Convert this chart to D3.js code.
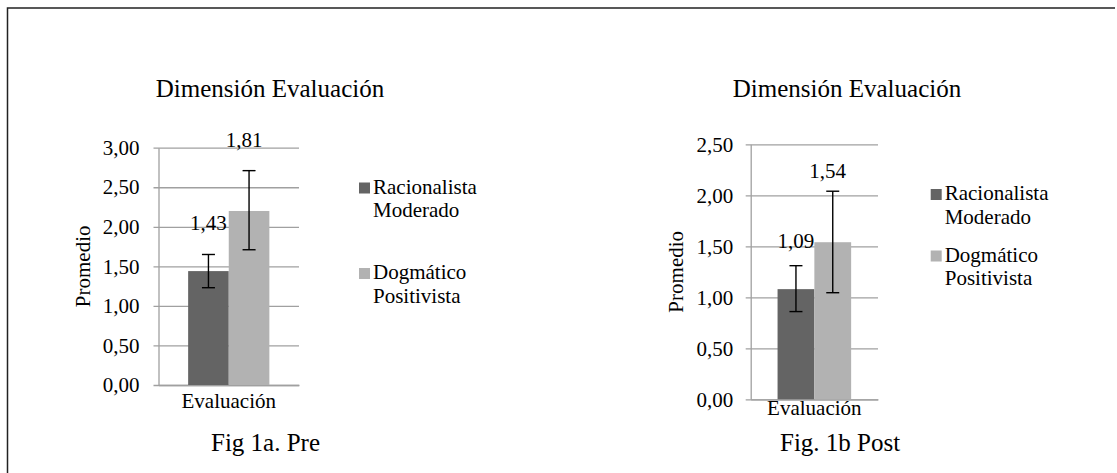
<!DOCTYPE html>
<html>
<head>
<meta charset="utf-8">
<script src="https://cdn.jsdelivr.net/npm/d3@7"></script>
<style>
  body { margin: 0; background: #fff; }
  svg text { font-family: "Liberation Serif", "Times New Roman", serif; fill: #000; }
</style>
</head>
<body>
<div id="chart"></div>
<script>
// data
var categories = ["Evaluación"];
var seriesNames = ["Racionalista Moderado", "Dogmático Positivista"];
var colors = ["#646464", "#b2b2b2"];

// Fig 1a (pre)
var preValues = [1.44, 2.20];
var preLabels = ["1,43", "1,81"];
var preErrLow = [1.23, 1.71];
var preErrHigh = [1.65, 2.71];
var preTicks = [0, 0.5, 1, 1.5, 2, 2.5, 3];

// Fig 1b (post)
var postValues = [1.08, 1.54];
var postLabels = ["1,09", "1,54"];
var postErrLow = [0.86, 1.045];
var postErrHigh = [1.31, 2.04];
var postTicks = [0, 0.5, 1, 1.5, 2, 2.5];

var w = 1117, h = 473;

var svg = d3.select("#chart")
    .append("svg")
    .attr("width", w)
    .attr("height", h)
    .attr("font-family", "Liberation Serif");

// page frame (top and left only)
svg.append("path")
    .attr("d", "M7.5," + h + "V8H1115")
    .attr("fill", "none")
    .attr("stroke", "#222")
    .attr("stroke-width", 1.5);

var locale = d3.formatLocale({decimal: ",", thousands: ".", grouping: [3], currency: ["", ""]});
var fmt = locale.format(".2f");

function drawChart(opt) {
    var y = d3.scaleLinear()
        .domain([0, d3.max(opt.ticks)])
        .range([opt.y0, opt.yTop]);

    var x = d3.scaleBand()
        .domain(categories)
        .range([opt.x0, opt.x1])
        .paddingOuter(0.365);

    var xs = d3.scaleBand()
        .domain(d3.range(seriesNames.length))
        .range([0, x.bandwidth()]);

    var plotW = opt.x1 - opt.x0;

    // y axis + gridlines
    var yAxis = svg.append("g")
        .attr("transform", "translate(" + opt.x0 + ",0)")
        .call(d3.axisLeft(y).tickValues(opt.ticks).tickSize(5).tickSizeOuter(0)
            .tickPadding(opt.tickPad).tickFormat(fmt));
    yAxis.attr("font-family", "Liberation Serif");
    yAxis.selectAll(".tick line")
        .attr("x1", -5)
        .attr("x2", plotW)
        .attr("stroke", "#a0a0a0")
        .attr("stroke-width", 1.3);
    yAxis.select(".domain").attr("stroke", "#a0a0a0").attr("stroke-width", 1.3);
    yAxis.selectAll(".tick text")
        .attr("font-size", 21)
        .attr("fill", "#000");

    // category axis
    var xAxis = svg.append("g")
        .attr("transform", "translate(0," + opt.y0 + ")")
        .call(d3.axisBottom(x).tickSize(0).tickPadding(opt.catPad));
    xAxis.attr("font-family", "Liberation Serif");
    xAxis.select(".domain").attr("stroke", "#a0a0a0").attr("stroke-width", 1.3);
    xAxis.selectAll(".tick text")
        .attr("font-size", 21)
        .attr("fill", "#000");

    // bars
    var g = svg.append("g")
        .attr("transform", "translate(" + x(categories[0]) + ",0)");

    g.selectAll("rect.bar")
        .data(opt.values)
        .enter()
        .append("rect")
        .attr("class", "bar")
        .attr("x", function (d, i) { return xs(i); })
        .attr("width", xs.bandwidth())
        .attr("y", function (d) { return y(d); })
        .attr("height", function (d) { return opt.y0 - y(d); })
        .attr("fill", function (d, i) { return colors[i]; });

    // error bars
    var err = g.selectAll("g.err")
        .data(opt.values)
        .enter()
        .append("g")
        .attr("class", "err")
        .attr("stroke", "#000")
        .attr("stroke-width", 1.4);
    err.append("line")
        .attr("x1", function (d, i) { return xs(i) + xs.bandwidth() / 2; })
        .attr("x2", function (d, i) { return xs(i) + xs.bandwidth() / 2; })
        .attr("y1", function (d, i) { return y(opt.errLow[i]); })
        .attr("y2", function (d, i) { return y(opt.errHigh[i]); });
    [opt.errLow, opt.errHigh].forEach(function (arr) {
        err.append("line")
            .attr("x1", function (d, i) { return xs(i) + xs.bandwidth() / 2 - 6.5; })
            .attr("x2", function (d, i) { return xs(i) + xs.bandwidth() / 2 + 6.5; })
            .attr("y1", function (d, i) { return y(arr[i]); })
            .attr("y2", function (d, i) { return y(arr[i]); });
    });

    // value labels
    var labelLift = [41, 64];
    var labelShift = [0, -5];
    g.selectAll("text.val")
        .data(opt.values)
        .enter()
        .append("text")
        .attr("class", "val")
        .attr("x", function (d, i) { return xs(i) + xs.bandwidth() / 2 + labelShift[i]; })
        .attr("y", function (d, i) { return y(d) - labelLift[i]; })
        .attr("text-anchor", "middle")
        .attr("font-size", 21)
        .text(function (d, i) { return opt.labels[i]; });

    // y axis title
    var ymid = (opt.y0 + opt.yTop) / 2;
    svg.append("text")
        .attr("transform", "translate(" + opt.yTitleX + "," + ymid + ") rotate(-90)")
        .attr("text-anchor", "middle")
        .attr("dy", "0.35em")
        .attr("font-size", 21)
        .text("Promedio");

    // chart title
    svg.append("text")
        .attr("x", opt.titleX)
        .attr("y", 97)
        .attr("text-anchor", "middle")
        .attr("font-size", 25)
        .text("Dimensión Evaluación");

    // legend
    var leg = svg.selectAll(null)
        .data(seriesNames)
        .enter()
        .append("g")
        .attr("transform", function (d, i) {
            return "translate(" + opt.legX + "," + (opt.legY + i * opt.legGap) + ")";
        });
    leg.append("rect")
        .attr("x", 0)
        .attr("y", -11)
        .attr("width", 11)
        .attr("height", 11)
        .attr("fill", function (d, i) { return colors[i]; });
    leg.append("text")
        .attr("x", 14)
        .attr("y", 0)
        .attr("font-size", 21)
        .selectAll("tspan")
        .data(function (d) { return d.split(" "); })
        .enter()
        .append("tspan")
        .attr("x", 14)
        .attr("dy", function (d, i) { return i === 0 ? 0 : 23.5; })
        .text(function (d) { return d; });

    // caption
    svg.append("text")
        .attr("x", opt.capX)
        .attr("y", 451)
        .attr("font-size", 25)
        .text(opt.caption);
}

drawChart({
    values: preValues, labels: preLabels, errLow: preErrLow, errHigh: preErrHigh, ticks: preTicks,
    x0: 158.5, x1: 299, y0: 385, yTop: 147.7, tickPad: 14, catPad: 8,
    yTitleX: 83, titleX: 270, legX: 359, legY: 193.5, legGap: 85.5,
    capX: 211, caption: "Fig 1a. Pre"
});

drawChart({
    values: postValues, labels: postLabels, errLow: postErrLow, errHigh: postErrHigh, ticks: postTicks,
    x0: 750.7, x1: 878, y0: 399.3, yTop: 144.3, tickPad: 12.5, catPad: 1,
    yTitleX: 676, titleX: 847, legX: 930.7, legY: 200, legGap: 61.5,
    capX: 780, caption: "Fig. 1b Post"
});
</script>
</body>
</html>
